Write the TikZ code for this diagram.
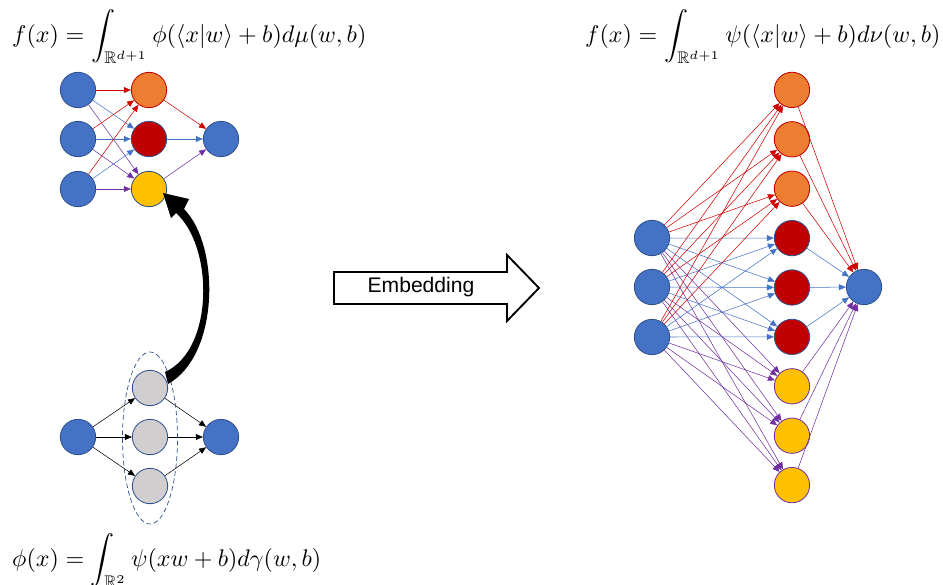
\documentclass[tikz,border=0pt]{standalone}
\usepackage{amsmath,amssymb}
\usepackage{fontspec}
\newfontfamily\embfont{Liberation Sans}
\usepackage{tikz}
\usetikzlibrary{arrows.meta,positioning,calc,shapes.geometric}

\definecolor{nblue}{HTML}{4472C4}
\definecolor{nborder}{HTML}{2F528F}
\definecolor{norange}{HTML}{ED7D31}
\definecolor{nred}{HTML}{C00000}
\definecolor{nyellow}{HTML}{FFC000}
\definecolor{ngray}{HTML}{D0CECE}
\definecolor{epurple}{HTML}{7030A0}
\definecolor{ered}{HTML}{D00000}

\begin{document}
\begin{tikzpicture}[x=0.03cm, y=-0.03cm,
  neuron/.style={circle, minimum size=1.06cm, inner sep=0pt, line width=0.7pt},
  inp/.style={neuron, fill=nblue, draw=nborder},
  hor/.style={neuron, fill=norange, draw=nred},
  hrd/.style={neuron, fill=nred, draw=nborder},
  hyl/.style={neuron, fill=nyellow, draw=nborder},
  hyp/.style={neuron, fill=nyellow, draw=epurple},
  hgr/.style={neuron, fill=ngray, draw=nborder},
  wire/.style={line width=0.45pt, -{Triangle[length=6pt,width=5pt]}},
  eqn/.style={anchor=base west, inner sep=0pt}]
  \useasboundingbox (0,0) rectangle (943,585);
  % formulas
  \node[eqn] (fmu) at (12,42) {\scalebox{2.05}{$f(x)=\displaystyle\int_{\mathbb{R}^{d+1}}\phi(\langle x|w\rangle+b)d\mu(w,b)$}};
  \node[eqn] (fnu) at (585,42) {\scalebox{2.05}{$f(x)=\displaystyle\int_{\mathbb{R}^{d+1}}\psi(\langle x|w\rangle+b)d\nu(w,b)$}};
  \node[eqn] (fga) at (12,566) {\scalebox{2.05}{$\phi(x)=\displaystyle\int_{\mathbb{R}^2}\psi(xw+b)d\gamma(w,b)$}};
  % top left net
  \foreach \i/\yy in {1/90, 2/139, 3/189}
    \node[inp] (a\i) at (78,\yy) {};
  \node[hor] (ah1) at (149,90) {};
  \node[hrd] (ah2) at (149,139) {};
  \node[hyl] (ah3) at (149,189) {};
  \node[inp] (ao) at (221,139) {};
  \foreach \i in {1,2,3}{
    \draw[wire, ered] (a\i) -- (ah1);
    \draw[wire, nblue] (a\i) -- (ah2);
    \draw[wire, epurple] (a\i) -- (ah3);
  }
  \draw[wire, ered] (ah1) -- (ao);
  \draw[wire, nblue] (ah2) -- (ao);
  \draw[wire, epurple] (ah3) -- (ao);
  % bottom left net
  \node[inp] (b) at (78,437) {};
  \foreach \i/\yy in {1/388, 2/437, 3/486}
    \node[hgr] (bh\i) at (150,\yy) {};
  \node[inp] (bo) at (221,437) {};
  \foreach \i in {1,2,3}{
    \draw[wire] (b) -- (bh\i);
    \draw[wire] (bh\i) -- (bo);
  }
  \node[ellipse, draw=nborder, dashed, dash pattern=on 4pt off 2.5pt, line width=0.6pt,
    minimum width=1.65cm, minimum height=5.16cm, inner sep=0pt] (bell) at (150,438) {};
  % lift arrow
  \fill (168,384) .. controls (220,355) and (220,245) .. (184,209) -- (189,199) -- (163,193)
    -- (171,218) -- (176,213) .. controls (214,247) and (214,350) .. (165,372) -- cycle;
  % embedding arrow
  \draw[line width=1.6pt, line join=miter] (334,272) -- (507,272) -- (507,255) -- (539,288)
    -- (507,321) -- (507,304) -- (334,304) -- cycle;
  \node[font=\embfont\fontsize{18}{20}\selectfont] (emb) at (421,287) {Embedding};
  % right net
  \foreach \i/\yy in {1/238, 2/287, 3/337}
    \node[inp] (c\i) at (652,\yy) {};
  \foreach \j/\sty in {1/hor, 2/hor, 3/hor, 4/hrd, 5/hrd, 6/hrd, 7/hyp, 8/hyp, 9/hyp}
    \node[\sty] (ch\j) at (792,{40.5+49.4*\j}) {};
  \node[inp] (co) at (864,287) {};
  \foreach \i in {1,2,3}{
    \foreach \j in {1,2,3} \draw[wire, ered] (c\i) -- (ch\j);
    \foreach \j in {4,5,6} \draw[wire, nblue] (c\i) -- (ch\j);
    \foreach \j in {7,8,9} \draw[wire, epurple] (c\i) -- (ch\j);
  }
  \foreach \j in {1,2,3} \draw[wire, ered] (ch\j) -- (co);
  \foreach \j in {4,5,6} \draw[wire, nblue] (ch\j) -- (co);
  \foreach \j in {7,8,9} \draw[wire, epurple] (ch\j) -- (co);
\end{tikzpicture}
\end{document}
